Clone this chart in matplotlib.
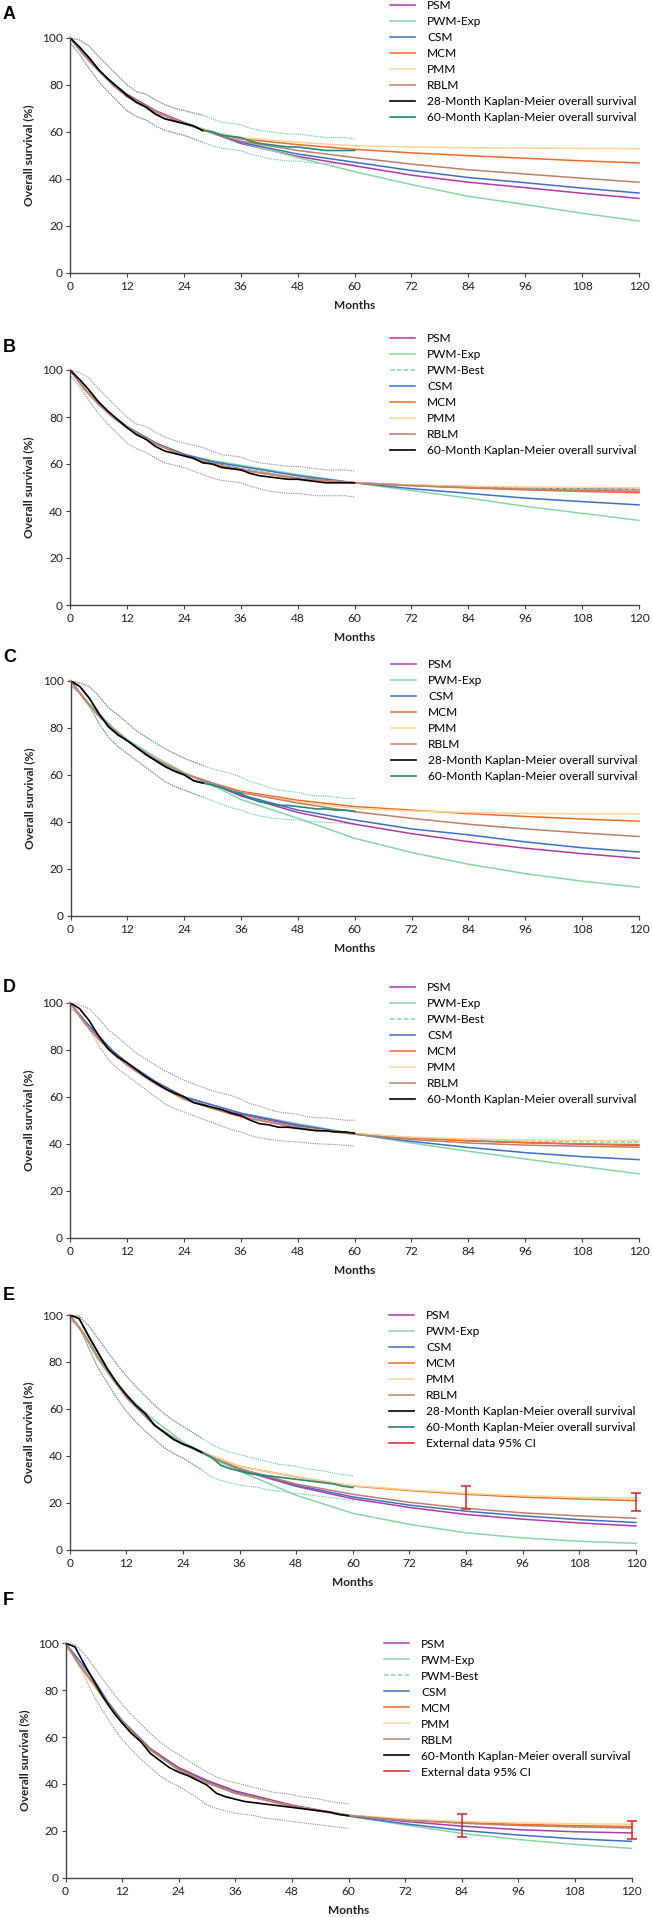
import numpy as np
import matplotlib
matplotlib.use("Agg")
import matplotlib.pyplot as plt
from matplotlib.lines import Line2D

plt.rcParams['font.family'] = ['Lato', 'DejaVu Sans']

W, H = 652, 1917

# model time grid (months) and Kaplan-Meier time grid
MT = [0, 3, 6, 9, 12, 18, 24, 30, 36, 48, 60, 72, 84, 96, 108, 120]
KT = list(range(0, 61, 2))

# ---- Kaplan-Meier data (dataset 1: A/B, dataset 2: C/D, dataset 3: E/F) ----
KM1 = [100, 96, 91.5, 86.5, 82.5, 79, 75.5, 72.5, 70.5, 67.5, 65.5, 64.5, 63.5, 62.5, 60.5, 60,
       58.5, 58, 57.5, 56, 55, 54.5, 54, 53.5, 53.5, 53, 52.5, 52, 52, 52, 52]
KM1_UP = [100, 99, 96.5, 92, 88, 84, 80, 77, 76, 73.5, 71.5, 70, 69, 68, 67, 65.5,
          64, 63.5, 63, 61.5, 60.5, 60, 59.5, 59, 59, 58.5, 58, 57.5, 57.5, 57.5, 57]
KM1_LO = [98, 93, 87, 81.5, 77, 73, 69, 66.5, 65, 62.5, 60.5, 59.5, 58.5, 57, 55.5, 54,
          53, 52.5, 52, 50.5, 49.5, 48.5, 48, 47.5, 47.5, 47, 46.5, 46.5, 46.5, 46.5, 46]

KM2 = [100, 97.5, 92.5, 86, 80.5, 77, 74.5, 71.5, 68.5, 66, 63.5, 61.5, 60, 57.5, 56.5, 55.5,
       54.5, 53, 52, 50, 48.5, 48, 47, 47, 46.5, 46, 45.5, 45.5, 45, 45, 44.5]
KM2_UP = [100, 99, 97.5, 93.5, 88.5, 85.5, 82, 78.5, 76, 73.5, 71, 69, 67, 65.5, 64, 62.5,
          61.5, 60.5, 59, 57, 56, 54.5, 53.5, 53, 52.5, 51.5, 51, 51, 50.5, 50, 50]
KM2_LO = [98, 94.5, 89, 82, 76, 72, 69, 66, 63, 60, 57, 55, 53.5, 52, 50.5, 49,
          47.5, 46, 45, 43.5, 42.5, 41.8, 41.3, 41, 40.8, 40.3, 40, 39.8, 39.6, 39.3, 39]

KM3 = [100, 98.5, 91, 84, 77, 71, 66, 61.5, 58, 53, 50, 47, 45, 43.5, 41.5, 39.5,
       36, 34.5, 33.5, 32.5, 32, 31.5, 31, 30.5, 30, 29.5, 29, 28.5, 28, 27, 26.5]
KM3_UP = [100, 99.5, 95.5, 90, 84.5, 79, 74, 69.5, 65.5, 61.5, 58, 55, 52.5, 50, 47.5, 45,
          43, 41.5, 40.5, 39.5, 38.5, 37.5, 36.5, 36, 35.5, 34.5, 34, 33.5, 32.5, 32, 31.5]
KM3_LO = [98, 95, 86, 77.5, 71, 64.5, 59, 54.5, 50.5, 47, 43.5, 41, 39, 36.5, 34, 31,
          29.5, 28.5, 27.5, 27, 26.5, 25.5, 25, 24.5, 24, 23.5, 23, 22.5, 22, 21.5, 21]

# ---- Panel A ----
A_PSM = [100, 92.5, 86, 80.5, 76, 69, 64, 59.5, 55, 49.5, 45.5, 41.5, 38.5, 36.2, 33.8, 31.6]
A_PWM = [100, 92.5, 86, 80, 75, 68.5, 63.5, 59.5, 55.5, 49, 43, 37.5, 32.5, 29, 25.3, 22]
A_CSM = [100, 92.5, 86, 80, 75, 68.5, 63.5, 59.5, 55.5, 50.5, 47, 43.5, 40.5, 38.3, 36, 33.9]
A_MCM = [100, 92.5, 86, 80, 75, 68.5, 63.5, 60, 57, 54.5, 52.5, 51, 49.8, 48.7, 47.6, 46.7]
A_PMM = [100, 92.5, 86, 80, 75, 68.5, 63.5, 60, 57.5, 55.5, 54, 53.5, 53.2, 53, 52.9, 52.8]
A_RBLM = [100, 92.5, 86, 80, 75, 68.5, 63.5, 59.5, 56, 52, 49, 46.2, 43.8, 42, 40.2, 38.5]

# ---- Panel B ----
B_PSM = [100, 92, 85.5, 80, 75.5, 68.5, 64, 60.5, 58, 54, 52, 51, 50.4, 49.9, 49.5, 49.2]
B_PWM = [100, 92.5, 86, 80.5, 76, 69, 64, 61.5, 59.5, 55.5, 52, 48.7, 45.5, 42, 39, 36]
B_BEST = [100, 92, 85.5, 80, 75.5, 68.5, 63.8, 60.5, 58, 54, 52, 51, 50.3, 49.8, 49.4, 49]
B_CSM = [100, 92, 86, 80.5, 76, 69, 64.2, 61, 59, 55, 52, 49.5, 47.5, 45.5, 44, 42.6]
B_MCM = [100, 92, 85.5, 80, 75.5, 68.5, 63.5, 60, 57.5, 53.8, 52, 50.8, 49.8, 49, 48.3, 47.8]
B_PMM = [100, 92, 85.5, 80, 75.5, 68.5, 63.5, 60, 57.5, 53.8, 52, 51, 50.5, 50.2, 50, 49.9]
B_RBLM = [100, 92, 85.5, 80, 75.5, 68.5, 63.5, 60, 57.5, 53.8, 52, 50.8, 50, 49.3, 48.8, 48.4]

# ---- Panel C ----
C_PSM = [100, 92, 85, 79.5, 74.5, 66.5, 60.5, 56, 51, 44, 39, 35, 31.6, 28.8, 26.5, 24.5]
C_PWM = [100, 92.5, 86, 80, 75, 67.5, 61, 55.5, 49.5, 41.5, 33, 27, 22, 18, 14.8, 12.2]
C_CSM = [100, 92, 85, 79.5, 74.5, 66.5, 60.5, 56, 51.5, 45, 40.8, 37, 34.5, 31.5, 29, 27.2]
C_MCM = [100, 92, 85, 79.5, 74.5, 66.5, 60.5, 56.5, 53, 49.2, 46.5, 45, 43.5, 42.3, 41.2, 40.3]
C_PMM = [100, 92, 85, 79.5, 74.5, 66.5, 60.5, 56.5, 52.5, 48.5, 45.8, 44.6, 44, 43.6, 43.4, 43.3]
C_RBLM = [100, 92, 85, 79.5, 74.5, 66.5, 60.5, 56.5, 52.5, 48, 44.3, 41.5, 39, 37, 35.3, 33.8]

# ---- Panel D ----
D_PSM = [100, 92, 85, 79, 74, 66, 59.5, 55.5, 52.5, 47.5, 44.2, 42.5, 41.3, 40.5, 39.8, 39.3]
D_PWM = [100, 92.5, 86, 79.5, 74.5, 66.5, 60, 56.5, 53, 48.5, 44.2, 40.3, 36.8, 33.5, 30.3, 27.2]
D_BEST = [100, 92, 85, 79, 74, 66, 59.5, 55, 51.8, 47, 44.2, 42.6, 41.7, 41.2, 40.8, 40.6]
D_CSM = [100, 92.5, 86, 79.5, 74.5, 66.5, 60, 56.5, 53, 48, 44.2, 41, 38.4, 36.2, 34.5, 33.2]
D_MCM = [100, 91.5, 84.5, 78.5, 73.5, 65.5, 59, 55, 51.5, 46.8, 44.2, 42.5, 41.2, 40.4, 39.9, 39.6]
D_PMM = [100, 91.5, 84.5, 78.5, 73.5, 65.5, 59, 55, 51.5, 46.8, 44.2, 42.8, 42, 41.6, 41.4, 41.3]
D_RBLM = [100, 91.5, 84.5, 78.5, 73.5, 65.5, 59, 55, 51.5, 46.8, 44, 41.8, 40.3, 39.4, 38.9, 38.5]

# ---- Panel E ----
E_PSM = [100, 92, 82, 73, 65, 53, 45, 39.5, 34, 27, 21.7, 18, 15, 13, 11.4, 10.1]
E_PWM = [100, 91.5, 81, 73, 66, 55, 46, 39, 33.5, 23.2, 15.5, 10.8, 7.2, 5, 3.6, 2.7]
E_CSM = [100, 92, 82, 73, 65, 53, 45, 39.5, 34.5, 27.5, 22.5, 19, 16.4, 14.4, 12.8, 11.6]
E_MCM = [100, 92, 82, 73, 65, 53, 45, 40, 35.5, 31, 27.1, 25.2, 23.6, 22.4, 21.6, 20.9]
E_PMM = [100, 92, 82, 73, 65, 53, 45, 40, 35.5, 31, 27.3, 25.5, 24, 23, 22.3, 21.9]
E_RBLM = [100, 92, 82, 73, 65, 53, 45, 39.5, 34.5, 28, 23.6, 20.2, 17.6, 15.7, 14.4, 13.4]
E_EXT_T = [84, 120]
E_EXT_LO = [17.2, 16.6]
E_EXT_HI = [27.3, 24.0]

# ---- Panel F ----
F_PSM = [100, 91, 83, 74, 67, 55, 47, 41.5, 37, 31, 26.6, 24, 22, 20.5, 19.6, 19.1]
F_PWM = [100, 91, 83, 74, 66.5, 54.5, 46, 40.5, 36, 30.5, 26.3, 22.5, 18.9, 16.3, 14.2, 12.5]
F_BEST = [100, 91, 83, 74, 66.5, 54.5, 46, 40.5, 36, 30.5, 26.6, 24.5, 23.2, 22.3, 21.6, 21.1]
F_CSM = [100, 92.5, 84.5, 75, 67, 55, 46.5, 41, 36.5, 30.5, 26.3, 23, 20.2, 18.2, 16.6, 15.5]
F_MCM = [100, 90.5, 82.5, 74, 66.5, 54.5, 46, 40.5, 36, 30.5, 26.6, 24.7, 23.6, 22.8, 22.2, 21.8]
F_PMM = [100, 90, 82, 73.5, 66, 54, 46, 40.5, 36, 30.5, 26.8, 25, 24, 23.4, 23, 22.8]
F_RBLM = [100, 90.5, 82.5, 74, 66.5, 54.5, 46, 40.5, 36, 30.5, 26.6, 24.5, 23.3, 22.3, 21.7, 21.3]
F_EXT_T = [84, 120]
F_EXT_LO = [17.4, 16.4]
F_EXT_HI = [27.3, 24.0]

# colours
COL = {
    "PSM": "#b23aa8", "PWM-Exp": "#86d6a8", "PWM-Best": "#86d6a8", "CSM": "#3d6fcc",
    "MCM": "#f36a2a", "PMM": "#fdd58e", "RBLM": "#bf7f6b",
}
TEAL = "#218a78"
CI_TEAL = "#5fbfb5"
CI_GREY = "#8a8a8a"
RED = "#e0202a"
KM28_LABEL = "28-Month Kaplan-Meier overall survival"
KM60_LABEL = "60-Month Kaplan-Meier overall survival"
EXT_LABEL = "External data 95% CI"

# layout in pixels: axes left, right, y of 100, y of 0 ; legend x, first row y ; letter y
panels = [
    dict(tag="A", ax=(70, 639, 37.7, 272.7), leg=(390, 7.3), ly=14.3,
         models=[("PSM", A_PSM), ("PWM-Exp", A_PWM), ("CSM", A_CSM), ("MCM", A_MCM),
                 ("PMM", A_PMM), ("RBLM", A_RBLM)],
         km=(KM1, KM1_UP, KM1_LO), two=True, ext=None),
    dict(tag="B", ax=(70, 639, 370, 605), leg=(390, 340.7), ly=347,
         models=[("PSM", B_PSM), ("PWM-Exp", B_PWM), ("PWM-Best", B_BEST), ("CSM", B_CSM),
                 ("MCM", B_MCM), ("PMM", B_PMM), ("RBLM", B_RBLM)],
         km=(KM1, KM1_UP, KM1_LO), two=False, ext=None),
    dict(tag="C", ax=(70.5, 639, 680.7, 916), leg=(391, 666.7), ly=657,
         models=[("PSM", C_PSM), ("PWM-Exp", C_PWM), ("CSM", C_CSM), ("MCM", C_MCM),
                 ("PMM", C_PMM), ("RBLM", C_RBLM)],
         km=(KM2, KM2_UP, KM2_LO), two=True, ext=None),
    dict(tag="D", ax=(70, 639, 1002.7, 1237.7), leg=(390, 989.3), ly=987,
         models=[("PSM", D_PSM), ("PWM-Exp", D_PWM), ("PWM-Best", D_BEST), ("CSM", D_CSM),
                 ("MCM", D_MCM), ("PMM", D_PMM), ("RBLM", D_RBLM)],
         km=(KM2, KM2_UP, KM2_LO), two=False, ext=None),
    dict(tag="E", ax=(69.7, 636, 1315, 1549.7), leg=(389, 1317.7), ly=1296,
         models=[("PSM", E_PSM), ("PWM-Exp", E_PWM), ("CSM", E_CSM), ("MCM", E_MCM),
                 ("PMM", E_PMM), ("RBLM", E_RBLM)],
         km=(KM3, KM3_UP, KM3_LO), two=True, ext=(E_EXT_T, E_EXT_LO, E_EXT_HI)),
    dict(tag="F", ax=(65.5, 631.5, 1643.3, 1877.7), leg=(384, 1646), ly=1600,
         models=[("PSM", F_PSM), ("PWM-Exp", F_PWM), ("PWM-Best", F_BEST), ("CSM", F_CSM),
                 ("MCM", F_MCM), ("PMM", F_PMM), ("RBLM", F_RBLM)],
         km=(KM3, KM3_UP, KM3_LO), two=False, ext=(F_EXT_T, F_EXT_LO, F_EXT_HI)),
]

fig = plt.figure(figsize=(W / 100, H / 100), dpi=100)
FS = 8.6

for p in panels:
    l, r, y100, y0 = p["ax"]
    ax = fig.add_axes([l / W, 1 - y0 / H, (r - l) / W, (y0 - y100) / H])
    ax.set_xlim(0, 120)
    ax.set_ylim(0, 100)
    ax.set_xticks(range(0, 121, 12))
    ax.set_yticks(range(0, 101, 20))
    for s in ("top", "right"):
        ax.spines[s].set_visible(False)
    for s in ("left", "bottom"):
        ax.spines[s].set_color("#444444")
        ax.spines[s].set_linewidth(1.0)
    ax.tick_params(length=3, width=0.8, color="#444444", labelsize=FS, labelcolor="#222222")
    ax.tick_params(axis="x", pad=3.0)
    ax.tick_params(axis="y", pad=2.0)

    km, up, lo = p["km"]
    n28 = KT.index(28) + 1
    dot = (0, (1, 1))
    # confidence limits
    if p["two"]:
        ax.plot(KT, up, color=CI_TEAL, lw=0.8, ls=dot)
        ax.plot(KT, lo, color=CI_TEAL, lw=0.8, ls=dot)
        ax.plot(KT[:n28], up[:n28], color=CI_GREY, lw=0.8, ls=dot)
        ax.plot(KT[:n28], lo[:n28], color=CI_GREY, lw=0.8, ls=dot)
    else:
        ax.plot(KT, up, color=CI_GREY, lw=0.8, ls=dot)
        ax.plot(KT, lo, color=CI_GREY, lw=0.8, ls=dot)

    handles, labels = [], []
    for name, vals in p["models"]:
        ls = (0, (3, 1.5)) if name == "PWM-Best" else "-"
        h, = ax.plot(MT, vals, color=COL[name], lw=1.1, ls=ls, clip_on=False)
        handles.append(h)
        labels.append(name)

    if p["two"]:
        h60, = ax.plot(KT, km, color=TEAL, lw=1.2)
        h28, = ax.plot(KT[:n28], km[:n28], color="black", lw=1.2)
        handles += [h28, h60]
        labels += [KM28_LABEL, KM60_LABEL]
    else:
        h60, = ax.plot(KT, km, color="black", lw=1.2)
        handles.append(h60)
        labels.append(KM60_LABEL)

    if p["ext"] is not None:
        et, elo, ehi = p["ext"]
        mid = [(a + b) / 2 for a, b in zip(elo, ehi)]
        err = [[m - a for m, a in zip(mid, elo)], [b - m for m, b in zip(mid, ehi)]]
        ax.errorbar(et, mid, yerr=err, fmt="none", ecolor=RED, elinewidth=1.1,
                    capsize=3.5, capthick=1.1, clip_on=False, zorder=5)
        handles.append(Line2D([], [], color=RED, lw=1.1))
        labels.append(EXT_LABEL)

    # axis titles
    ax.text(-41 / (r - l), 0.5, "Overall survival (%)", transform=ax.transAxes, rotation=90,
            ha="center", va="center", fontsize=FS, fontweight="bold", color="#222222")
    ax.text(0.5, -32.5 / (y0 - y100), "Months", transform=ax.transAxes,
            ha="center", va="center", fontsize=FS, fontweight="bold", color="#222222")

    lx, ly = p["leg"]
    fig.legend(handles, labels, loc="upper left", bbox_to_anchor=(lx / W, 1 - (ly - 7.5) / H),
               frameon=False, borderpad=0, borderaxespad=0, fontsize=FS,
               handlelength=2.1, handletextpad=1.0, labelspacing=0.42)

    fig.text(3 / W, 1 - p["ly"] / H, p["tag"], fontsize=13, fontweight="bold",
             family=["Liberation Sans", "DejaVu Sans"], ha="left", va="center")

fig.savefig("out.png", dpi=100)
